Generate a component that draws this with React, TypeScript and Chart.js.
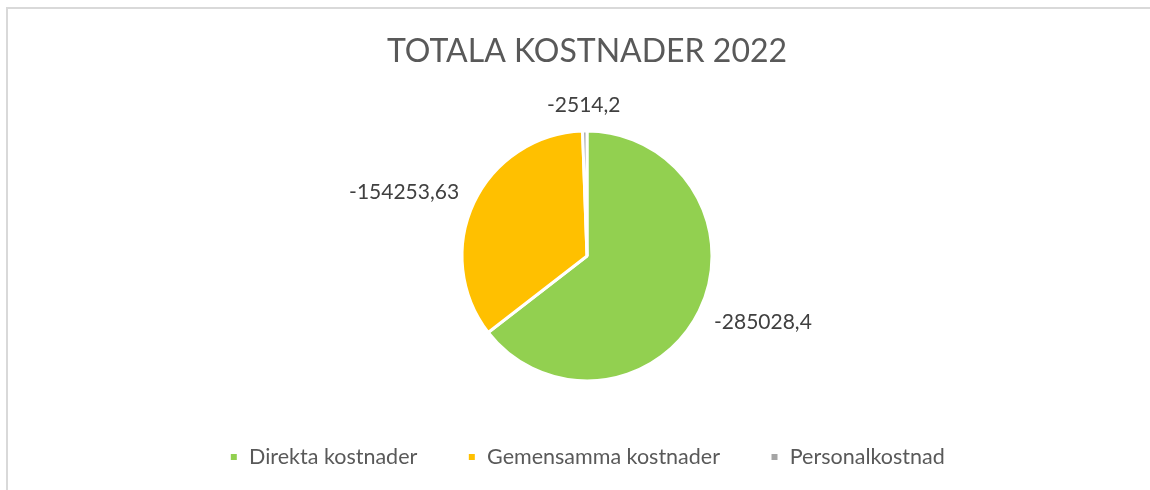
import React, { useEffect, useRef } from "react";
import { Chart, registerables } from "chart.js";

Chart.register(...registerables);

const chartTitle = "TOTALA KOSTNADER 2022";
const categories = ["Direkta kostnader", "Gemensamma kostnader", "Personalkostnad"];
const values = [-285028.4, -154253.63, -2514.2];
const colors = ["#92D050", "#FFC000", "#A5A5A5"];

const FONT = "Lato, 'Open Sans', sans-serif";

const formatValue = (v: number) => String(v).replace(".", ",");

const outsideLabels = {
  id: "outsideLabels",
  afterDatasetsDraw(chart: any) {
    const { ctx } = chart;
    const meta = chart.getDatasetMeta(0);
    ctx.save();
    ctx.font = `21px ${FONT}`;
    ctx.fillStyle = "#404040";
    ctx.textBaseline = "middle";
    ctx.textAlign = "center";
    meta.data.forEach((arc: any, i: number) => {
      const p = arc.getProps(["x", "y", "startAngle", "endAngle", "outerRadius"], true);
      const mid = (p.startAngle + p.endAngle) / 2;
      const cos = Math.cos(mid);
      const sin = Math.sin(mid);
      const rx = p.outerRadius + 22;
      const ry = p.outerRadius + 16;
      const text = formatValue(values[i]);
      const w = ctx.measureText(text).width;
      const h = 20;
      const x = p.x + cos * rx + (cos * w) / 2;
      const y = p.y + sin * ry + (sin * h) / 2;
      ctx.fillText(text, x, y);
    });
    ctx.restore();
  },
};

export default function App() {
  const ref = useRef<HTMLCanvasElement | null>(null);

  useEffect(() => {
    if (!ref.current) return;
    const chart = new Chart(ref.current, {
      type: "pie",
      data: {
        labels: categories,
        datasets: [
          {
            data: values.map((v) => Math.abs(v)),
            backgroundColor: colors,
            borderColor: "#ffffff",
            borderWidth: 3,
            radius: 125,
          },
        ],
      },
      options: {
        responsive: false,
        animation: false,
        layout: { padding: { left: 24, right: 0, top: 8, bottom: 12.25 } },
        plugins: {
          title: {
            display: true,
            text: chartTitle,
            color: "#595959",
            font: { family: FONT, size: 32, weight: "normal" as any },
            padding: { top: 24.3, bottom: 45 },
          },
          legend: {
            position: "bottom",
            labels: {
              color: "#595959",
              font: { family: FONT, size: 21.5 },
              boxWidth: 9,
              boxHeight: 9,
              padding: 50,
            },
          },
          tooltip: { enabled: false },
        },
      },
      plugins: [outsideLabels],
    });
    return () => chart.destroy();
  }, []);

  return (
    <div style={{ position: "absolute", left: 0, top: 0, width: 1150, height: 490, background: "#fff", overflow: "hidden" }}>
      <div
        style={{
          position: "absolute",
          left: 6,
          top: 7,
          width: 1200,
          height: 600,
          borderLeft: "2px solid #d9d9d9",
          borderTop: "2px solid #d9d9d9",
        }}
      />
      <canvas ref={ref} width={1150} height={490} style={{ position: "absolute", left: 0, top: 0 }} />
    </div>
  );
}
